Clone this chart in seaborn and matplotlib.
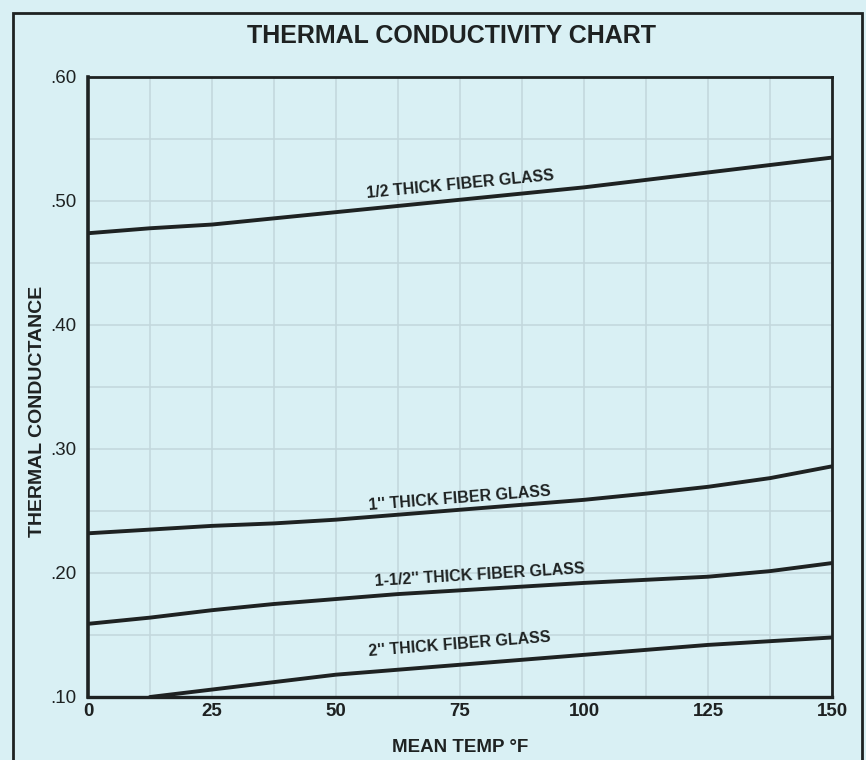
import matplotlib
matplotlib.use("Agg")
import matplotlib.pyplot as plt
import matplotlib.patches as mpatches
import numpy as np
import pandas as pd
import seaborn as sns

# Mean temperature (°F) sample points
temp = [0, 12.5, 25, 37.5, 50, 62.5, 75, 87.5, 100, 112.5, 125, 137.5, 150]
temp_2in = [12.5, 25, 37.5, 50, 62.5, 75, 87.5, 100, 112.5, 125, 137.5, 150]

# Thermal conductance for each fiber glass thickness
half_in = [0.474, 0.478, 0.481, 0.486, 0.491, 0.496, 0.501, 0.506, 0.511, 0.517, 0.523, 0.529, 0.535]
one_in = [0.232, 0.235, 0.238, 0.240, 0.243, 0.247, 0.251, 0.255, 0.259, 0.264, 0.2695, 0.2765, 0.286]
one_half_in = [0.159, 0.164, 0.170, 0.175, 0.179, 0.183, 0.186, 0.189, 0.192, 0.1945, 0.197, 0.2015, 0.208]
two_in = [0.100, 0.106, 0.112, 0.118, 0.122, 0.126, 0.130, 0.134, 0.138, 0.142, 0.145, 0.148]

series_names = ["1/2 THICK FIBER GLASS", "1'' THICK FIBER GLASS",
                "1-1/2'' THICK FIBER GLASS", "2'' THICK FIBER GLASS"]

x_ticks = [0, 25, 50, 75, 100, 125, 150]
x_tick_labels = ["0", "25", "50", "75", "100", "125", "150"]
y_ticks = [0.10, 0.20, 0.30, 0.40, 0.50, 0.60]
y_tick_labels = [".10", ".20", ".30", ".40", ".50", ".60"]

frames = []
for name, xs, ys in zip(series_names,
                        [temp, temp, temp, temp_2in],
                        [half_in, one_in, one_half_in, two_in]):
    frames.append(pd.DataFrame({"temp": xs, "k": ys, "series": name}))
df = pd.concat(frames, ignore_index=True)

bg = "#d9f0f4"
ink = "#1e2222"
sns.set_style("white", {"axes.facecolor": bg, "figure.facecolor": bg})
plt.rcParams["font.family"] = ["Liberation Sans", "DejaVu Sans"]

fig = plt.figure(figsize=(8.66, 7.6), dpi=100)
ax = fig.add_axes([0.1016, 0.0829, 0.8591, 0.8158])

sns.lineplot(data=df, x="temp", y="k", hue="series", units="series",
             estimator=None, palette=[ink] * 4, linewidth=2.8,
             legend=False, ax=ax)

ax.set_xlim(0, 150)
ax.set_ylim(0.10, 0.60)
ax.set_xticks(x_ticks)
ax.set_xticklabels(x_tick_labels, fontsize=13.5, fontweight="bold", color=ink)
ax.set_yticks(y_ticks)
ax.set_yticklabels(y_tick_labels, fontsize=13.5, color=ink)
ax.set_xticks(np.arange(0, 150.1, 12.5), minor=True)
ax.set_yticks(np.arange(0.10, 0.601, 0.05), minor=True)
ax.grid(which="both", color="#c2d7dc", linewidth=1.1)
ax.tick_params(which="both", length=0, pad=4)
ax.tick_params(axis="y", pad=8)
ax.set_axisbelow(True)

for side, lw in [("left", 2.6), ("bottom", 2.4), ("top", 2.0), ("right", 2.0)]:
    ax.spines[side].set_visible(True)
    ax.spines[side].set_color(ink)
    ax.spines[side].set_linewidth(lw)

ax.set_xlabel("MEAN TEMP °F", fontsize=13.5, fontweight="bold", color=ink)
ax.xaxis.set_label_coords(0.5, -0.067)
ax.set_ylabel("THERMAL CONDUCTANCE", fontsize=14, fontweight="bold", color=ink)
ax.yaxis.set_label_coords(-0.056, 0.46)

# Curve labels, written along each line
label_pos = [(75, 0.513, 5.5), (75, 0.2605, 4.5), (79, 0.1985, 3.5), (75, 0.1425, 4.5)]
for name, (lx, ly, rot) in zip(series_names, label_pos):
    ax.text(lx, ly, name, fontsize=11.5, fontweight="bold", color=ink,
            ha="center", va="center", rotation=rot, rotation_mode="anchor")

fig.text(0.521, 0.953, "THERMAL CONDUCTIVITY CHART", fontsize=18,
         fontweight="bold", color=ink, ha="center", va="center")

# Outer border around the chart panel
frame = mpatches.Rectangle((0.015, -0.05), 0.98, 1.033, transform=fig.transFigure,
                           fill=False, edgecolor=ink, linewidth=2.0, clip_on=False)
fig.add_artist(frame)

fig.savefig("out.png", dpi=100, facecolor=bg)
